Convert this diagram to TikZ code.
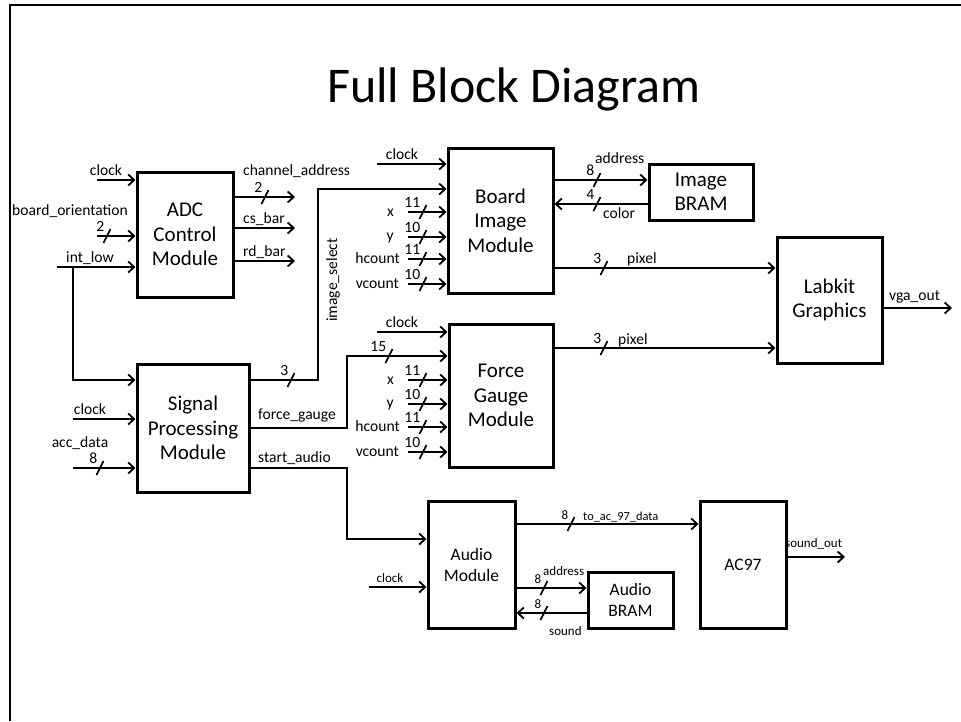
\documentclass[tikz,border=0pt]{standalone}
\usepackage{fontspec}
\setmainfont{Carlito}
\usetikzlibrary{arrows.meta}
\newcommand\bwmark[5]{%
  \draw[slashln] (#2-3.5,#3+7) -- (#2+3.5,#3-7);
  \node[#5, anchor=base east] (#1) at (#2-2.5,#3-4.5) {#4};}
\begin{document}
\begin{tikzpicture}[x=1pt,y=-1pt,
  wire/.style={line width=1.8pt},
  arr/.style={wire, -{Straight Barb[length=6pt,width=11pt]}},
  slashln/.style={line width=1.6pt},
  blk/.style={draw, line width=3pt, align=center, inner sep=0pt, font=\fontsize{21}{24.5}\selectfont},
  blks/.style={blk, font=\fontsize{17.5}{21}\selectfont},
  lbl/.style={inner sep=0pt, font=\fontsize{15.6}{17}\selectfont},
  lbls/.style={inner sep=0pt, font=\fontsize{13}{15}\selectfont}]
\useasboundingbox (0,0) rectangle (961,721);
\draw[line width=2.2pt] (10,721) -- (10,5) -- (961,5);
\node[font=\fontsize{50}{56}\selectfont, anchor=base, inner sep=0pt] (title) at (514,102) {Full Block Diagram};

% blocks
\node[blk, minimum width=96pt, minimum height=125pt] (adc) at (185,234.5) {ADC\\Control\\Module};
\node[blk, minimum width=112pt, minimum height=128pt] (sig) at (193,428) {Signal\\Processing\\Module};
\node[blk, minimum width=105pt, minimum height=145pt] (board) at (500.5,220.5) {Board\\Image\\Module};
\node[blk, minimum width=104pt, minimum height=56pt] (ibram) at (701,192) {Image\\BRAM};
\node[blk, minimum width=105pt, minimum height=126pt] (labkit) at (829.5,300) {Labkit\\Graphics};
\node[blk, minimum width=104pt, minimum height=143pt] (force) at (501,395.5) {Force\\Gauge\\Module};
\node[blks, minimum width=87pt, minimum height=127pt] (audio) at (471.5,564.5) {Audio\\Module};
\node[blks, minimum width=86pt, minimum height=127pt] (ac97) at (743,564.5) {AC97};
\node[blks, minimum width=85pt, minimum height=56pt] (abram) at (630.5,600) {Audio\\BRAM};

% ADC inputs
\coordinate (aClk) at (97,180); \draw[arr] (aClk) -- (aClk -| adc.west);
\node[lbl, anchor=base] (laClk) at (106,175) {clock};
\coordinate (aBo) at (97,236); \draw[arr] (aBo) -- (aBo -| adc.west);
\bwmark{naBo}{107}{236}{2}{lbl}
\node[lbl, anchor=base] (laBo) at (70,215) {board\_orientation};
\coordinate (aInt) at (57,267); \draw[arr] (aInt) -- (aInt -| adc.west);
\node[lbl, anchor=base] (laInt) at (90,262) {int\_low};
% ADC outputs
\coordinate (aCh) at (295,197); \draw[arr] (aCh -| adc.east) -- (aCh);
\bwmark{naCh}{265}{197}{2}{lbl}
\node[lbl, anchor=base west] (laCh) at (243,175) {channel\_address};
\coordinate (aCs) at (295,228); \draw[arr] (aCs -| adc.east) -- (aCs);
\node[lbl, anchor=base west] (laCs) at (243,223) {cs\_bar};
\coordinate (aRd) at (295,261); \draw[arr] (aRd -| adc.east) -- (aRd);
\node[lbl, anchor=base west] (laRd) at (243,256) {rd\_bar};

% int_low branch to signal processing
\coordinate (jTop) at (73,267); \coordinate (jBot) at (73,380);
\draw[arr] (jTop) -- (jBot) -- (jBot -| sig.west);

% Signal processing inputs
\coordinate (sClk) at (73,419); \draw[arr] (sClk) -- (sClk -| sig.west);
\node[lbl, anchor=base] (lsClk) at (90,414) {clock};
\coordinate (sAcc) at (73,468); \draw[arr] (sAcc) -- (sAcc -| sig.west);
\bwmark{nsAcc}{100}{468}{8}{lbl}
\node[lbl, anchor=base] (lsAcc) at (80,447) {acc\_data};

% Signal processing outputs
\coordinate (isA) at (318,380); \coordinate (isB) at (318,189);
\draw[arr] (isA -| sig.east) -- (isA) -- (isB) -- (isB -| board.west);
\bwmark{nIs}{291}{380}{3}{lbl}
\node[lbl, rotate=90] (lIs) at (333,280) {image\_select};
\coordinate (fgA) at (347,428); \coordinate (fgB) at (347,356);
\draw[arr] (fgA -| sig.east) -- (fgA) -- (fgB) -- (fgB -| force.west);
\bwmark{nFg}{389}{356}{15}{lbl}
\node[lbl, anchor=base west] (lFg) at (258,419) {force\_gauge};
\coordinate (saA) at (347,468); \coordinate (saB) at (347,539);
\draw[arr] (saA -| sig.east) -- (saA) -- (saB) -- (saB -| audio.west);
\node[lbl, anchor=base west] (lSa) at (258,462) {start\_audio};

% Board image inputs
\coordinate (bClk) at (377,164); \draw[arr] (bClk) -- (bClk -| board.west);
\node[lbl, anchor=base] (lbClk) at (402,159) {clock};
\coordinate (bX) at (408,212); \draw[arr] (bX) -- (bX -| board.west);
\bwmark{nbX}{423}{212}{11}{lbl}
\node[lbl, anchor=base east] (lbX) at (394,216) {x};
\coordinate (bY) at (408,237); \draw[arr] (bY) -- (bY -| board.west);
\bwmark{nbY}{423}{237}{10}{lbl}
\node[lbl, anchor=base east] (lbY) at (394,240) {y};
\coordinate (bH) at (408,259); \draw[arr] (bH) -- (bH -| board.west);
\bwmark{nbH}{423}{259}{11}{lbl}
\node[lbl, anchor=base east] (lbH) at (400,263) {hcount};
\coordinate (bV) at (408,284); \draw[arr] (bV) -- (bV -| board.west);
\bwmark{nbV}{423}{284}{10}{lbl}
\node[lbl, anchor=base east] (lbV) at (399,288) {vcount};

% Board image outputs
\coordinate (yAd) at (0,180);
\draw[arr] (board.east |- yAd) -- (ibram.west |- yAd);
\bwmark{nbAd}{597}{180}{8}{lbl}
\node[lbl, anchor=base west] (lbAd) at (595,163) {address};
\coordinate (yCo) at (0,204);
\draw[arr] (ibram.west |- yCo) -- (board.east |- yCo);
\bwmark{nbCo}{597}{204}{4}{lbl}
\node[lbl, anchor=base west] (lbCo) at (603,218) {color};
\coordinate (yPa) at (0,268);
\draw[arr] (board.east |- yPa) -- (labkit.west |- yPa);
\bwmark{nbPx}{604}{268}{3}{lbl}
\node[lbl, anchor=base west] (lbPx) at (627,263) {pixel};

% Force gauge inputs
\coordinate (fClk) at (377,332); \draw[arr] (fClk) -- (fClk -| force.west);
\node[lbl, anchor=base] (lfClk) at (402,327) {clock};
\coordinate (fX) at (408,380); \draw[arr] (fX) -- (fX -| force.west);
\bwmark{nfX}{423}{380}{11}{lbl}
\node[lbl, anchor=base east] (lfX) at (394,384) {x};
\coordinate (fY) at (408,404); \draw[arr] (fY) -- (fY -| force.west);
\bwmark{nfY}{423}{404}{10}{lbl}
\node[lbl, anchor=base east] (lfY) at (394,407) {y};
\coordinate (fH) at (408,427); \draw[arr] (fH) -- (fH -| force.west);
\bwmark{nfH}{423}{427}{11}{lbl}
\node[lbl, anchor=base east] (lfH) at (400,431) {hcount};
\coordinate (fV) at (408,452); \draw[arr] (fV) -- (fV -| force.west);
\bwmark{nfV}{423}{452}{10}{lbl}
\node[lbl, anchor=base east] (lfV) at (399,456) {vcount};

% Force gauge output
\coordinate (yPb) at (0,348);
\draw[arr] (force.east |- yPb) -- (labkit.west |- yPb);
\bwmark{nfPx}{604}{348}{3}{lbl}
\node[lbl, anchor=base west] (lfPx) at (618,344) {pixel};

% Labkit output
\coordinate (vga) at (952,308); \draw[arr] (vga -| labkit.east) -- (vga);
\node[lbl, anchor=base west] (lVga) at (889,300) {vga\_out};

% Audio
\coordinate (auClk) at (369,587); \draw[arr] (auClk) -- (auClk -| audio.west);
\node[lbls, anchor=base] (lauClk) at (390,582) {clock};
\coordinate (yAc) at (0,524);
\draw[arr] (audio.east |- yAc) -- (ac97.west |- yAc);
\bwmark{nAc}{571}{524}{8}{lbls}
\node[lbls, anchor=base west, font=\fontsize{12.4}{14}\selectfont] (lAc) at (583,520) {to\_ac\_97\_data};
\coordinate (so) at (845,557); \draw[arr] (so -| ac97.east) -- (so);
\node[lbls, anchor=base west] (lSo) at (785,547) {sound\_out};
\coordinate (yAa) at (0,588);
\draw[arr] (audio.east |- yAa) -- (abram.west |- yAa);
\bwmark{nAa}{544}{588}{8}{lbls}
\node[lbls, anchor=base west] (lAa) at (543,575) {address};
\coordinate (ySd) at (0,613);
\draw[arr] (abram.west |- ySd) -- (audio.east |- ySd);
\bwmark{nSd}{544}{613}{8}{lbls}
\node[lbls, anchor=base west] (lSd) at (549,635) {sound};
\end{tikzpicture}
\end{document}
